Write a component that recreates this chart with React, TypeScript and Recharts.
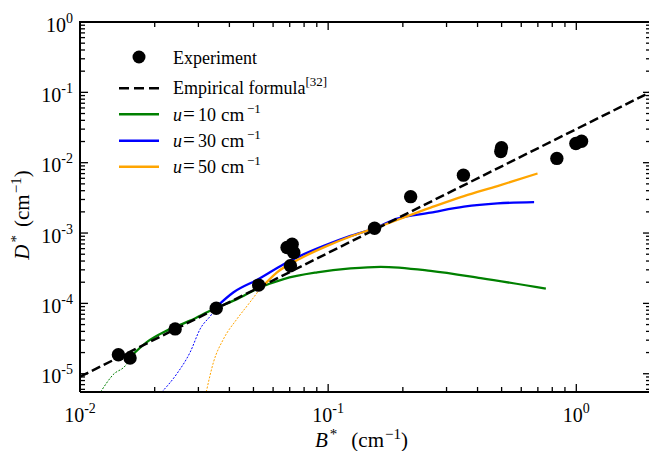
import React from 'react';
import { ComposedChart, Line, Scatter, XAxis, YAxis, Label, Customized } from 'recharts';

const FONT = "'Liberation Serif', 'Times New Roman', Times, serif";

// Experimental points (B*, D*)
const expB = [0.01428, 0.01591, 0.02418, 0.0354, 0.05246, 0.07046, 0.0683, 0.0716, 0.0727, 0.1538, 0.215, 0.3508, 0.4995, 0.4963, 0.835, 0.996, 1.05];
const expD = [1.86e-5, 1.67e-5, 4.34e-5, 8.53e-5, 1.82e-4, 3.42e-4, 6.23e-4, 6.94e-4, 5.3e-4, 1.17e-3, 3.29e-3, 6.65e-3, 1.63e-2, 1.44e-2, 1.15e-2, 1.87e-2, 2.02e-2];

// Empirical formula (straight line in log-log)
const empB = [0.01, 2];
const empD = [9.07e-6, 0.1018];

// u = 10 cm^-1
const u10DotB = [0.0121, 0.01359, 0.01543, 0.01591];
const u10DotD = [5.5e-6, 9.68e-6, 1.39e-5, 1.72e-5];
const u10B = [0.01591, 0.01859, 0.02239, 0.0278, 0.03453, 0.04292, 0.05232, 0.06618, 0.09029, 0.123, 0.1627, 0.2588, 0.4119, 0.7539];
const u10D = [1.72e-5, 2.81e-5, 4.10e-5, 5.69e-5, 8.33e-5, 1.15e-4, 1.65e-4, 2.22e-4, 2.76e-4, 3.14e-4, 3.31e-4, 2.90e-4, 2.29e-4, 1.62e-4];

// u = 30 cm^-1
const u30DotB = [0.02137, 0.02457, 0.0278, 0.0305, 0.034, 0.0354];
const u30DotD = [5.5e-6, 1.0e-5, 2.03e-5, 4.34e-5, 7.08e-5, 8.89e-5];
const u30B = [0.0354, 0.04158, 0.05246, 0.06618, 0.07729, 0.09599, 0.123, 0.1538, 0.19, 0.2588, 0.3526, 0.4811, 0.676];
const u30D = [8.89e-5, 1.44e-4, 2.22e-4, 3.61e-4, 4.74e-4, 6.56e-4, 9.10e-4, 1.17e-3, 1.60e-3, 1.95e-3, 2.37e-3, 2.64e-3, 2.75e-3];

// u = 50 cm^-1
const u50DotB = [0.03227, 0.03453, 0.03789, 0.04292, 0.04781, 0.05246];
const u50DotD = [5.5e-6, 1.47e-5, 3.13e-5, 6.01e-5, 9.81e-5, 1.51e-4];
const u50B = [0.05246, 0.06222, 0.07729, 0.0991, 0.123, 0.1538, 0.2588, 0.3526, 0.4811, 0.6976];
const u50D = [1.51e-4, 2.76e-4, 4.35e-4, 6.56e-4, 8.92e-4, 1.17e-3, 2.30e-3, 3.35e-3, 4.65e-3, 7.03e-3];

const X_DOMAIN = [0.01, 2];
const Y_DOMAIN = [5.5e-6, 1];
const xDecades = [0.01, 0.1, 1];
const yDecades = [1e-6, 1e-5, 1e-4, 1e-3, 1e-2, 1e-1, 1];
const minorMult = [1, 2, 3, 4, 5, 6, 7, 8, 9];

const zip = (bs: number[], ds: number[]) => bs.map((b, i) => ({ x: b, y: ds[i] }));

const experimentData = zip(expB, expD);
const empiricalData = zip(empB, empD);
const u10Dot = zip(u10DotB, u10DotD);
const u10 = zip(u10B, u10D);
const u30Dot = zip(u30DotB, u30DotD);
const u30 = zip(u30B, u30D);
const u50Dot = zip(u50DotB, u50DotD);
const u50 = zip(u50B, u50D);

function isMajor(v: number) {
  return Math.abs(Math.log10(v) - Math.round(Math.log10(v))) < 1e-6;
}
function expOf(v: number) {
  return String(Math.round(Math.log10(v)));
}
function buildTicks(decades: number[], lo: number, hi: number) {
  const out: number[] = [];
  decades.forEach((d) => {
    minorMult.forEach((m) => {
      const v = Number((d * m).toPrecision(6));
      if (v >= lo * 0.999 && v <= hi * 1.001) out.push(v);
    });
  });
  return out;
}

const xTicks = buildTicks(xDecades, X_DOMAIN[0], X_DOMAIN[1]).filter((v) => v < X_DOMAIN[1] * 0.999);
const yTicks = buildTicks(yDecades, Y_DOMAIN[0], Y_DOMAIN[1]);

// chart frame geometry (matches the margins / axis sizes below)
const CHART_W = 649;
const CHART_H = 451;
const M_TOP = 22;
const M_RIGHT = -2;
const X_AXIS_H = 59;
const Y_AXIS_W = 80;
const PL = Y_AXIS_W;
const PR = CHART_W - M_RIGHT;
const PT = M_TOP;
const PB = CHART_H - X_AXIS_H;
const MAJ = 8;
const MIN = 5;
const TW = 1.3;

function px(v: number) {
  const a = Math.log10(X_DOMAIN[0]);
  const b = Math.log10(X_DOMAIN[1]);
  return PL + ((Math.log10(v) - a) / (b - a)) * (PR - PL);
}
function py(v: number) {
  const a = Math.log10(Y_DOMAIN[0]);
  const b = Math.log10(Y_DOMAIN[1]);
  return PB - ((Math.log10(v) - a) / (b - a)) * (PB - PT);
}

function FrameMarks() {
  const segs: React.ReactNode[] = [];
  segs.push(<rect key="top" x={PL - 1} y={PT - 1} width={PR - PL + 2} height={2} fill="#000" />);
  xTicks.forEach((v, i) => {
    const x = px(v);
    const len = isMajor(v) ? MAJ : MIN;
    segs.push(<rect key={`xb${i}`} x={x - TW / 2} y={PB - len} width={TW} height={len} fill="#000" />);
    segs.push(<rect key={`xt${i}`} x={x - TW / 2} y={PT} width={TW} height={len} fill="#000" />);
  });
  yTicks.forEach((v, i) => {
    const y = py(v);
    const len = isMajor(v) ? MAJ : MIN;
    segs.push(<rect key={`yl${i}`} x={PL} y={y - TW / 2} width={len} height={TW} fill="#000" />);
    segs.push(<rect key={`yr${i}`} x={PR - len} y={y - TW / 2} width={len} height={TW} fill="#000" />);
  });
  return <g>{segs}</g>;
}

const BottomTickLabel = (props: any) => {
  const x = Number(props.x);
  const y = Number(props.y);
  const v = props.payload.value;
  if (!isMajor(v)) return <g />;
  return (
    <text x={x} y={y + 30} textAnchor="middle" fontFamily={FONT} fontSize={20} fill="#000">
      <tspan>10</tspan>
      <tspan dy={-9} fontSize={14}>{expOf(v)}</tspan>
    </text>
  );
};

const LeftTickLabel = (props: any) => {
  const x = Number(props.x);
  const y = Number(props.y);
  const v = props.payload.value;
  if (!isMajor(v)) return <g />;
  return (
    <text x={x - 7} y={y + 9.5} textAnchor="end" fontFamily={FONT} fontSize={20} fill="#000">
      <tspan>10</tspan>
      <tspan dy={-9} fontSize={14}>{expOf(v)}</tspan>
    </text>
  );
};

const XLabel = () => (
  <text x={315} y={447} fontFamily={FONT} fontSize={21} fill="#000">
    <tspan fontStyle="italic">B</tspan>
    <tspan dx={2} dy={-8} fontSize={15}>*</tspan>
    <tspan dx={14} dy={8}>(cm</tspan>
    <tspan dx={1} dy={-8} fontSize={15}>−1</tspan>
    <tspan dy={8}>)</tspan>
  </text>
);

const YLabel = () => (
  <text x={29} y={215} transform="rotate(-90, 29, 215)" textAnchor="middle" fontFamily={FONT} fontSize={21} fill="#000">
    <tspan fontStyle="italic">D</tspan>
    <tspan dx={2} dy={-8} fontSize={15}>*</tspan>
    <tspan dx={8} dy={8}>(cm</tspan>
    <tspan dx={1} dy={-8} fontSize={15}>−1</tspan>
    <tspan dy={8}>)</tspan>
  </text>
);

const uLabel = (val: string, y: number) => (
  <text y={y} fontFamily={FONT} fontSize={18} fill="#000">
    <tspan x={173} fontStyle="italic">u</tspan>
    <tspan x={183} fontSize={21}>=</tspan>
    <tspan x={198}>{val}</tspan>
    <tspan x={221} fontSize={19}>cm</tspan>
    <tspan x={247} dy={-8} fontSize={13}>−1</tspan>
  </text>
);

const LegendBox = () => (
  <g className="legend">
    <circle cx={139} cy={57} r={6.5} fill="#000" />
    <text x={173} y={63.5} fontFamily={FONT} fontSize={18} fill="#000">Experiment</text>
    <line x1={119} x2={159} y1={88.3} y2={88.3} stroke="#000" strokeWidth={2.5} strokeDasharray="10 5" />
    <text x={173} y={93.5} fontFamily={FONT} fontSize={18} fill="#000">
      <tspan>Empirical formula</tspan>
      <tspan dy={-8} fontSize={13}>[32]</tspan>
    </text>
    <line x1={119} x2={159} y1={114.3} y2={114.3} stroke="#008000" strokeWidth={2.5} />
    {uLabel('10', 120.5)}
    <line x1={119} x2={159} y1={140.7} y2={140.7} stroke="#0000ff" strokeWidth={2.5} />
    {uLabel('30', 147)}
    <line x1={119} x2={159} y1={166.7} y2={166.7} stroke="#ffa500" strokeWidth={2.5} />
    {uLabel('50', 173)}
  </g>
);

const Dot = (props: any) => <circle cx={props.cx} cy={props.cy} r={6.7} fill="#000" />;

const axisLine = { stroke: '#000', strokeWidth: 2 };

export default function App() {
  return (
    <div style={{ position: 'absolute', left: 0, top: 0, width: CHART_W, height: CHART_H }}>
      <ComposedChart width={CHART_W} height={CHART_H} margin={{ top: M_TOP, right: M_RIGHT, bottom: 0, left: 0 }}>
        <XAxis
          xAxisId="b"
          orientation="bottom"
          dataKey="x"
          type="number"
          scale="log"
          domain={X_DOMAIN}
          allowDataOverflow
          ticks={xTicks}
          interval={0}
          tick={BottomTickLabel}
          tickLine={false}
          tickSize={0}
          tickMargin={0}
          height={X_AXIS_H}
          axisLine={axisLine}
        >
          <Label content={XLabel} />
        </XAxis>
        <YAxis
          yAxisId="l"
          orientation="left"
          dataKey="y"
          type="number"
          scale="log"
          domain={Y_DOMAIN}
          allowDataOverflow
          ticks={yTicks}
          interval={0}
          tick={LeftTickLabel}
          tickLine={false}
          tickSize={0}
          tickMargin={0}
          width={Y_AXIS_W}
          axisLine={axisLine}
        >
          <Label content={YLabel} />
        </YAxis>

        <Line xAxisId="b" yAxisId="l" data={u10Dot} dataKey="y" type="monotone" stroke="#008000" strokeWidth={1} strokeDasharray="2 1.5" dot={false} isAnimationActive={false} legendType="none" />
        <Line xAxisId="b" yAxisId="l" data={u30Dot} dataKey="y" type="monotone" stroke="#0000ff" strokeWidth={1} strokeDasharray="2 1.5" dot={false} isAnimationActive={false} legendType="none" />
        <Line xAxisId="b" yAxisId="l" data={u50Dot} dataKey="y" type="monotone" stroke="#ffa500" strokeWidth={1} strokeDasharray="2 1.5" dot={false} isAnimationActive={false} legendType="none" />
        <Line xAxisId="b" yAxisId="l" data={u10} dataKey="y" type="monotone" stroke="#008000" strokeWidth={2.3} dot={false} isAnimationActive={false} name="u=10" />
        <Line xAxisId="b" yAxisId="l" data={u30} dataKey="y" type="monotone" stroke="#0000ff" strokeWidth={2.3} dot={false} isAnimationActive={false} name="u=30" />
        <Line xAxisId="b" yAxisId="l" data={u50} dataKey="y" type="monotone" stroke="#ffa500" strokeWidth={2.3} dot={false} isAnimationActive={false} name="u=50" />
        <Line xAxisId="b" yAxisId="l" data={empiricalData} dataKey="y" type="linear" stroke="#000" strokeWidth={2.5} strokeDasharray="9.25 4" dot={false} isAnimationActive={false} name="Empirical formula" />
        <Scatter xAxisId="b" yAxisId="l" data={experimentData} dataKey="y" shape={Dot} isAnimationActive={false} name="Experiment" />
        <Customized component={LegendBox} />
      </ComposedChart>
      <svg width={CHART_W} height={CHART_H} style={{ position: 'absolute', left: 0, top: 0, pointerEvents: 'none' }}>
        <FrameMarks />
      </svg>
    </div>
  );
}
